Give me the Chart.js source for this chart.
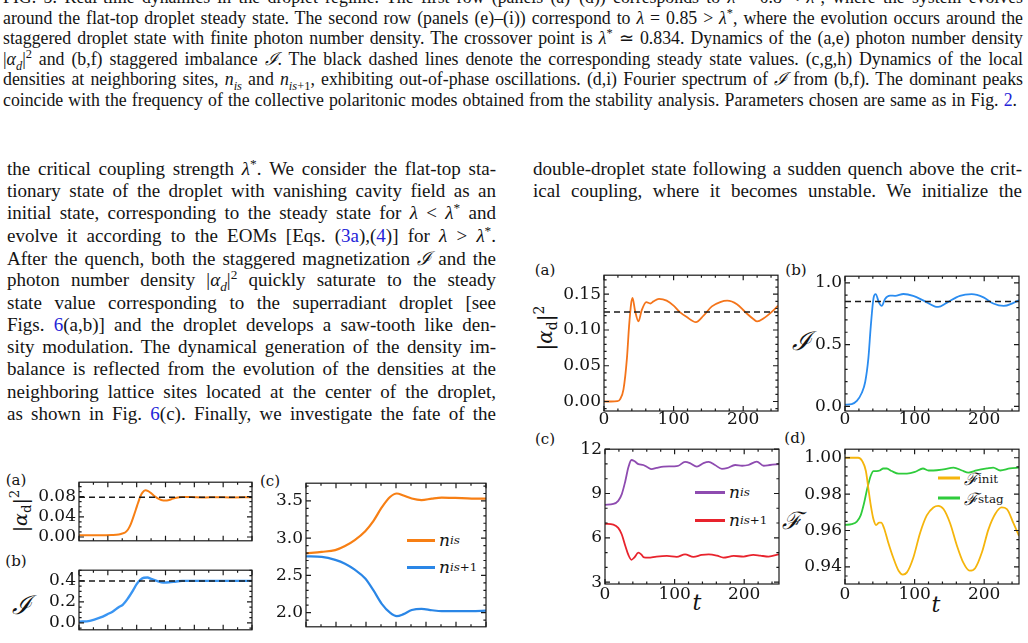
<!DOCTYPE html>
<html><head><meta charset="utf-8">
<script src="https://cdn.jsdelivr.net/npm/chart.js@4.4.1/dist/chart.umd.min.js"></script>
<style>
html,body{margin:0;padding:0;background:#fff;}
body{width:1028px;height:643px;overflow:hidden;position:relative;font-family:"Liberation Serif","Times New Roman",serif;color:#141414;}
.ln{position:absolute;white-space:nowrap;text-align:justify;text-align-last:justify;}
.cap{font-size:17.8px;line-height:20px;left:3px;width:1020px;}
.col{font-size:19px;line-height:22px;width:489px;}
.lk{color:#2323d8;}
sup,sub{font-size:70%;line-height:0;}
.pl{position:absolute;font-family:"DejaVu Serif",serif;font-size:15px;line-height:1;transform:translate(-50%,-50%);white-space:nowrap;color:#141414;}
.yl{position:absolute;font-family:"DejaVu Serif",serif;font-size:20px;line-height:1;white-space:nowrap;color:#141414;}
.sc{font-family:"DejaVu Serif",serif;font-style:italic;}
.box{position:absolute;}
.leg{position:absolute;font-family:"DejaVu Serif",serif;font-size:17px;white-space:nowrap;display:flex;align-items:center;transform:translateY(-50%);color:#141414;}
.leg .sw{display:inline-block;height:3px;margin-right:4px;}
</style></head>
<body>
<!-- caption -->
<div class="ln cap" style="top:-13.5px">FIG. 5: Real-time dynamics in the droplet regime. The first row (panels (a)–(d)) corresponds to <i>λ</i> = 0.8 &lt; <i>λ</i><sup>*</sup>, where the system evolves</div>
<div class="ln cap" style="top:7.5px">around the flat-top droplet steady state. The second row (panels (e)–(i)) correspond to <i>λ</i> = 0.85 &gt; <i>λ</i><sup>*</sup>, where the evolution occurs around the</div>
<div class="ln cap" style="top:28px">staggered droplet state with finite photon number density. The crossover point is <i>λ</i><sup>*</sup> ≃ 0.834. Dynamics of the (a,e) photon number density</div>
<div class="ln cap" style="top:48.5px">|<i>α<sub>d</sub></i>|<sup>2</sup> and (b,f) staggered imbalance <span class="sc">ℐ</span>. The black dashed lines denote the corresponding steady state values. (c,g,h) Dynamics of the local</div>
<div class="ln cap" style="top:69px">densities at neighboring sites, <i>n<sub>is</sub></i> and <i>n<sub>is</sub></i><sub>+1</sub>, exhibiting out-of-phase oscillations. (d,i) Fourier spectrum of <span class="sc">ℐ</span> from (b,f). The dominant peaks</div>
<div class="ln cap" style="top:89.5px;width:1014px">coincide with the frequency of the collective polaritonic modes obtained from the stability analysis. Parameters chosen are same as in Fig. <span class="lk">2</span>.</div>

<!-- left column -->
<div class="ln col" style="left:7px;top:157.7px">the critical coupling strength <i>λ</i><sup>*</sup>. We consider the flat-top sta-</div>
<div class="ln col" style="left:7px;top:180px">tionary state of the droplet with vanishing cavity field as an</div>
<div class="ln col" style="left:7px;top:202.3px">initial state, corresponding to the steady state for <i>λ</i> &lt; <i>λ</i><sup>*</sup> and</div>
<div class="ln col" style="left:7px;top:224.6px">evolve it according to the EOMs [Eqs. (<span class="lk">3a</span>),(<span class="lk">4</span>)] for <i>λ</i> &gt; <i>λ</i><sup>*</sup>.</div>
<div class="ln col" style="left:7px;top:246.9px">After the quench, both the staggered magnetization <span class="sc">ℐ</span> and the</div>
<div class="ln col" style="left:7px;top:269.2px">photon number density |<i>α<sub>d</sub></i>|<sup>2</sup> quickly saturate to the steady</div>
<div class="ln col" style="left:7px;top:291.5px">state value corresponding to the superradiant droplet [see</div>
<div class="ln col" style="left:7px;top:313.8px">Figs. <span class="lk">6</span>(a,b)] and the droplet develops a saw-tooth like den-</div>
<div class="ln col" style="left:7px;top:336.1px">sity modulation. The dynamical generation of the density im-</div>
<div class="ln col" style="left:7px;top:358.4px">balance is reflected from the evolution of the densities at the</div>
<div class="ln col" style="left:7px;top:380.7px">neighboring lattice sites located at the center of the droplet,</div>
<div class="ln col" style="left:7px;top:403px">as shown in Fig. <span class="lk">6</span>(c). Finally, we investigate the fate of the</div>

<!-- right column -->
<div class="ln col" style="left:533px;top:157.7px">double-droplet state following a sudden quench above the crit-</div>
<div class="ln col" style="left:533px;top:180px">ical coupling, where it becomes unstable. We initialize the</div>

<!-- panel labels -->
<div class="pl" style="left:545px;top:270px">(a)</div>
<div class="pl" style="left:796px;top:270px">(b)</div>
<div class="pl" style="left:545px;top:439px">(c)</div>
<div class="pl" style="left:795px;top:438px">(d)</div>
<div class="pl" style="left:16px;top:480px">(a)</div>
<div class="pl" style="left:16px;top:561px">(b)</div>
<div class="pl" style="left:270px;top:481px">(c)</div>

<!-- axis titles -->
<div class="yl" style="left:545px;top:328px;transform:translate(-50%,-50%) rotate(-90deg)">|<i>α</i><sub>d</sub>|<sup>2</sup></div>
<div class="yl sc" style="left:801px;top:341px;font-size:26px;transform:translate(-50%,-50%)">ℐ</div>
<div class="yl sc" style="left:792px;top:521px;font-size:24px;transform:translate(-50%,-50%)">ℱ</div>
<div class="yl" style="left:20px;top:511px;font-size:19px;transform:translate(-50%,-50%) rotate(-90deg)">|<i>α</i><sub>d</sub>|<sup>2</sup></div>
<div class="yl sc" style="left:21px;top:605px;font-size:26px;transform:translate(-50%,-50%)">ℐ</div>
<div class="yl" style="left:697px;top:603px;font-size:22px;transform:translate(-50%,-50%)"><i>t</i></div>
<div class="yl" style="left:936px;top:605px;font-size:22px;transform:translate(-50%,-50%)"><i>t</i></div>

<!-- legends -->
<div class="leg" style="left:695px;top:492px"><span class="sw" style="width:30px;background:#8e4bb0"></span><i>n</i><sub><i>is</i></sub></div>
<div class="leg" style="left:695px;top:520px"><span class="sw" style="width:30px;background:#e8232d"></span><i>n</i><sub><i>is</i>+1</sub></div>
<div class="leg" style="left:938px;top:478px"><span class="sw" style="width:22px;background:#f5b50c"></span><span class="sc">ℱ</span><sub>init</sub></div>
<div class="leg" style="left:938px;top:498px"><span class="sw" style="width:22px;background:#2fcc3c"></span><span class="sc">ℱ</span><sub>stag</sub></div>
<div class="leg" style="left:407px;top:540px"><span class="sw" style="width:28px;background:#f77f14"></span><i>n</i><sub><i>is</i></sub></div>
<div class="leg" style="left:407px;top:567px"><span class="sw" style="width:28px;background:#2a86e6"></span><i>n</i><sub><i>is</i>+1</sub></div>

<script>
// ---------- DATA ----------
// Right column, lambda = 0.85
const rA_t = [0, 10, 19, 23, 28, 33, 36, 39, 41, 44.6, 49.5, 54, 60.7, 66.5, 71, 79, 90, 100, 109, 119, 132, 143, 155, 167, 177, 191, 203, 215, 220, 229, 243, 250];
const rA_alpha = [0, 0, 0.0005, 0.003, 0.017, 0.061, 0.105, 0.137, 0.145, 0.127, 0.112, 0.127, 0.139, 0.137, 0.14, 0.1434, 0.141, 0.134, 0.125, 0.118, 0.111, 0.12, 0.133, 0.139, 0.141, 0.136, 0.125, 0.115, 0.112, 0.116, 0.127, 0.134];
const rA_steady = 0.125;

const rB_t = [0, 9.6, 17, 24, 29, 33.6, 37, 41, 44, 49, 52.8, 57.5, 64.7, 72, 84, 98, 113, 129.5, 134, 146, 165, 182, 199, 213, 228, 242, 250];
const rB_I = [0.013, 0.018, 0.044, 0.108, 0.197, 0.39, 0.646, 0.877, 0.908, 0.838, 0.813, 0.87, 0.897, 0.895, 0.91, 0.895, 0.856, 0.808, 0.805, 0.838, 0.895, 0.908, 0.882, 0.833, 0.813, 0.838, 0.859];
const rB_steady = 0.85;

const rC_t1 = [0, 12, 19, 24, 29, 33.6, 38, 42, 48, 55, 61, 67, 74, 84, 98, 105.5, 115, 122, 132, 141.5, 149, 158, 168, 175, 187, 197, 206, 218, 228, 237, 250];
const rC_nis = [8.23, 8.29, 8.5, 8.94, 9.8, 10.78, 11.27, 11.2, 10.99, 10.93, 10.78, 10.65, 10.73, 10.82, 10.84, 10.88, 11.14, 11.06, 10.82, 11.06, 11.14, 10.93, 10.67, 10.71, 10.93, 10.88, 10.93, 11.16, 10.88, 10.93, 10.99];
const rC_t2 = [0, 12, 19, 24, 29, 33.6, 38, 42, 48, 52, 56, 62, 74, 89, 103, 115, 127, 139, 149, 161, 170, 185, 199, 213, 223, 235, 250];
const rC_nis1 = [6.95, 6.89, 6.67, 6.24, 5.48, 4.84, 4.51, 4.66, 4.99, 4.88, 4.68, 4.66, 4.73, 4.77, 4.71, 4.88, 4.71, 4.84, 4.88, 4.79, 4.66, 4.77, 4.73, 4.84, 4.79, 4.73, 4.88];

const rD_t1 = [0, 19, 25, 30, 33.6, 37, 41, 44.6, 49, 52, 56, 62, 69.5, 77, 83, 89, 98, 108, 117.5, 127, 134, 141.5, 151, 160.7, 170, 179, 187, 197, 206, 216, 225, 232.6, 242, 250];
const rD_init = [1.0, 1.0, 0.998, 0.9927, 0.983, 0.974, 0.966, 0.963, 0.9643, 0.9643, 0.9614, 0.9536, 0.9449, 0.9379, 0.9358, 0.937, 0.9449, 0.9588, 0.9683, 0.9727, 0.9736, 0.9718, 0.964, 0.9518, 0.9423, 0.9379, 0.9393, 0.9483, 0.9605, 0.9692, 0.9727, 0.9718, 0.964, 0.957];
const rD_t2 = [0, 9.6, 17, 22.5, 27, 32, 37, 41, 45.6, 50, 55, 60, 67, 77, 89, 101, 112, 120, 127, 141.5, 156, 168, 177.5, 189, 204, 213, 223, 237, 250];
const rD_stag = [0.9631, 0.9635, 0.9649, 0.9683, 0.9744, 0.9831, 0.9901, 0.9927, 0.9927, 0.993, 0.9941, 0.9941, 0.9927, 0.9913, 0.9913, 0.9923, 0.9941, 0.993, 0.993, 0.9936, 0.9946, 0.993, 0.9918, 0.993, 0.9941, 0.9946, 0.993, 0.9941, 0.9946];

// Left column, lambda = 0.8
const lA_t = [0, 30, 45, 55, 60, 64, 68, 72, 75, 79, 82, 85, 88, 92, 96, 100, 105, 110, 117, 122, 128, 135, 143, 150, 160, 175, 190, 210, 240];
const lA_alpha = [0.0035, 0.0035, 0.004, 0.005, 0.007, 0.009, 0.015, 0.026, 0.038, 0.055, 0.068, 0.08, 0.088, 0.0925, 0.091, 0.087, 0.081, 0.076, 0.0725, 0.0725, 0.075, 0.078, 0.0795, 0.0795, 0.079, 0.0785, 0.079, 0.0785, 0.079];
const lA_steady = 0.079;

const lB_t = [0, 15, 29, 40, 47, 55, 61, 68, 75, 80, 85, 90, 95, 100, 108, 117, 125, 135, 143, 160, 200, 240];
const lB_I = [0.012, 0.02, 0.05, 0.085, 0.11, 0.15, 0.175, 0.235, 0.31, 0.37, 0.41, 0.43, 0.432, 0.42, 0.4, 0.385, 0.387, 0.395, 0.4, 0.4, 0.4, 0.4];
const lB_steady = 0.4;

const lC_t = [0, 21, 39, 52, 65, 79, 90, 101, 112, 121, 130, 141, 154, 168, 181, 199, 221, 240];
const lC_nis = [2.796, 2.816, 2.84, 2.895, 2.975, 3.094, 3.233, 3.412, 3.552, 3.6, 3.572, 3.532, 3.512, 3.532, 3.544, 3.54, 3.532, 3.532];
const lC_nis1 = [2.756, 2.748, 2.708, 2.657, 2.577, 2.458, 2.298, 2.119, 2.0, 1.952, 1.98, 2.035, 2.052, 2.032, 2.02, 2.02, 2.02, 2.028];

// tick values
const rX_ticks = [0, 100, 200];
const lX_ticks = [0, 40, 80, 120, 160, 200, 240];
const rA_yticks = [0, 0.05, 0.10, 0.15];
const rB_yticks = [0, 0.5, 1.0];
const rC_yticks = [3, 6, 9, 12];
const rD_yticks = [0.94, 0.96, 0.98, 1.00];
const lA_yticks = [0, 0.04, 0.08];
const lB_yticks = [0, 0.2, 0.4];
const lC_yticks = [2.0, 2.5, 3.0, 3.5];

// ---------- helpers ----------
const pts = (t, v) => t.map((x, i) => ({x, y: v[i]}));
const line = (t, v, color, w) => ({data: pts(t, v), borderColor: color, borderWidth: w, pointRadius: 0, fill: false, cubicInterpolationMode: 'monotone'});
const dashed = (xmin, xmax, s) => ({data: [{x: xmin, y: s}, {x: xmax, y: s}], borderColor: '#1a1a1a', borderWidth: 1.5, borderDash: [6, 4], pointRadius: 0, fill: false});

function framePlugin(o) {
  return {id: 'frame', afterDatasetsDraw(chart) {
    const {ctx, chartArea: a, scales: {x, y}} = chart;
    ctx.save();
    ctx.strokeStyle = '#1a1a1a'; ctx.lineWidth = 1.2;
    ctx.strokeRect(a.left, a.top, a.right - a.left, a.bottom - a.top);
    ctx.beginPath();
    const tx = (v, len) => { const p = x.getPixelForValue(v); ctx.moveTo(p, a.bottom); ctx.lineTo(p, a.bottom - len); ctx.moveTo(p, a.top); ctx.lineTo(p, a.top + len); };
    const ty = (v, len) => { const p = y.getPixelForValue(v); ctx.moveTo(a.left, p); ctx.lineTo(a.left + len, p); ctx.moveTo(a.right, p); ctx.lineTo(a.right - len, p); };
    o.xTicks.forEach(v => tx(v, 5));
    o.yTicks.forEach(v => ty(v, 5));
    const minor = (min, max, step, fn, majors) => {
      let k = Math.ceil(min / step - 1e-9);
      for (; k * step <= max + 1e-9; k++) {
        const v = k * step;
        if (!majors.some(m => Math.abs(m - v) < step * 1e-3)) fn(v, 2.6);
      }
    };
    minor(o.xmin, o.xmax, o.xMinor, tx, o.xTicks);
    minor(o.ymin, o.ymax, o.yMinor, ty, o.yTicks);
    ctx.stroke();
    ctx.restore();
  }};
}

function panel(o) {
  const yW = 60, pt = 6, pr = 6, xH = o.xH;
  const div = document.createElement('div');
  div.className = 'box';
  div.style.left = (o.L - yW) + 'px';
  div.style.top = (o.T - pt) + 'px';
  div.style.width = (o.R - o.L + yW + pr) + 'px';
  div.style.height = (o.B - o.T + pt + xH) + 'px';
  const cv = document.createElement('canvas');
  div.appendChild(cv);
  document.body.appendChild(div);
  const font = {family: 'DejaVu Serif', size: 17};
  new Chart(cv, {
    type: 'line',
    data: {datasets: o.datasets},
    options: {
      responsive: true, maintainAspectRatio: false, animation: false, devicePixelRatio: 1,
      layout: {padding: {top: pt, right: pr, left: 0, bottom: 0}},
      plugins: {legend: {display: false}, tooltip: {enabled: false}},
      scales: {
        x: {type: 'linear', min: o.xmin, max: o.xmax,
            grid: {display: false, drawTicks: false}, border: {display: false},
            ticks: {display: o.xLabels, font, color: '#141414', padding: o.xPad || 0, maxRotation: 0, autoSkip: false,
                    callback: v => String(v)},
            afterBuildTicks: s => { s.ticks = o.xTicks.map(v => ({value: v})); },
            afterFit: s => { s.height = xH; }},
        y: {type: 'linear', min: o.ymin, max: o.ymax,
            grid: {display: false, drawTicks: false}, border: {display: false},
            ticks: {display: true, font, color: '#141414', padding: 3, autoSkip: false,
                    callback: v => Number(v).toFixed(o.dec)},
            afterBuildTicks: s => { s.ticks = o.yTicks.map(v => ({value: v})); },
            afterFit: s => { s.width = yW; }}
      }
    },
    plugins: [framePlugin(o)]
  });
}

// ---------- panels ----------
panel({L: 604, R: 778, T: 268, B: 411, xH: 24, xLabels: true, xPad: -2,
  xmin: 0, xmax: 250, ymin: -0.0133, ymax: 0.1766, xTicks: rX_ticks, yTicks: rA_yticks, xMinor: 20, yMinor: 0.01, dec: 2,
  datasets: [dashed(0, 250, rA_steady), line(rA_t, rA_alpha, '#f4741a', 1.8)]});

panel({L: 845, R: 1019, T: 269, B: 411, xH: 24, xLabels: true, xPad: -2,
  xmin: 0, xmax: 250, ymin: -0.038, ymax: 1.054, xTicks: rX_ticks, yTicks: rB_yticks, xMinor: 20, yMinor: 0.1, dec: 1,
  datasets: [dashed(0, 250, rB_steady), line(rB_t, rB_I, '#2a8cf0', 1.8)]});

panel({L: 605, R: 779, T: 442, B: 584, xH: 24, xLabels: true, xPad: 0,
  xmin: 0, xmax: 250, ymin: 2.87, ymax: 12.0, xTicks: rX_ticks, yTicks: rC_yticks, xMinor: 20, yMinor: 1, dec: 0,
  datasets: [line(rC_t1, rC_nis, '#8e4bb0', 1.8), line(rC_t2, rC_nis1, '#e8232d', 1.8)]});

panel({L: 845, R: 1019, T: 442, B: 584, xH: 24, xLabels: true, xPad: 0,
  xmin: 0, xmax: 250, ymin: 0.9306, ymax: 1.0047, xTicks: rX_ticks, yTicks: rD_yticks, xMinor: 20, yMinor: 0.005, dec: 2,
  datasets: [line(rD_t1, rD_init, '#f5b50c', 1.8), line(rD_t2, rD_stag, '#2fcc3c', 1.8)]});

panel({L: 79, R: 252, T: 475, B: 552, xH: 2, xLabels: false,
  xmin: 0, xmax: 240, ymin: -0.0075, ymax: 0.1087, xTicks: lX_ticks, yTicks: lA_yticks, xMinor: 20, yMinor: 0.01, dec: 2,
  datasets: [dashed(0, 240, lA_steady), line(lA_t, lA_alpha, '#f77f14', 2)]});

panel({L: 79, R: 252, T: 563, B: 641, xH: 2, xLabels: false,
  xmin: 0, xmax: 240, ymin: -0.065, ymax: 0.502, xTicks: lX_ticks, yTicks: lB_yticks, xMinor: 20, yMinor: 0.05, dec: 1,
  datasets: [dashed(0, 240, lB_steady), line(lB_t, lB_I, '#3a95f2', 2.4)]});

panel({L: 306, R: 486, T: 476, B: 638, xH: 2, xLabels: false,
  xmin: 0, xmax: 240, ymin: 1.81, ymax: 3.738, xTicks: lX_ticks, yTicks: lC_yticks, xMinor: 20, yMinor: 0.1, dec: 1,
  datasets: [line(lC_t, lC_nis, '#f77f14', 2.2), line(lC_t, lC_nis1, '#2a86e6', 2.2)]});
</script>
</body></html>
